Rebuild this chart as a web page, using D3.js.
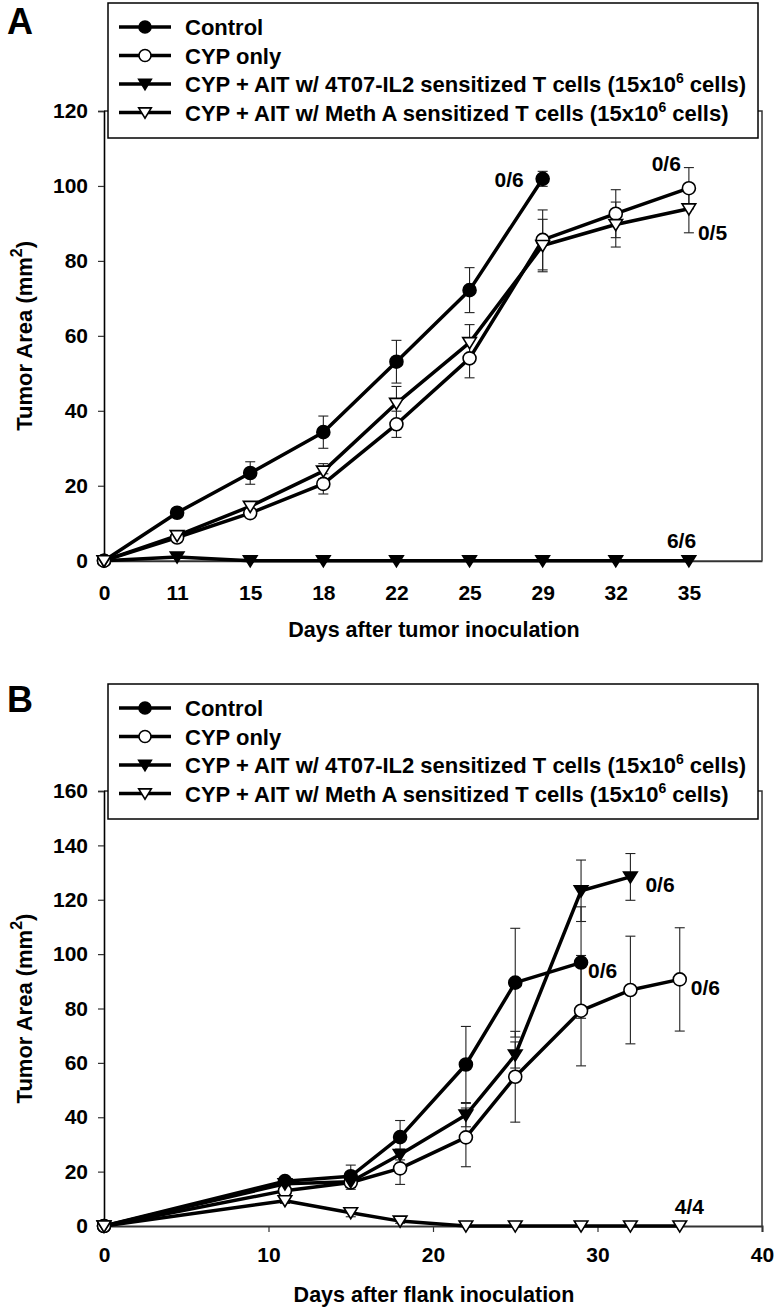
<!DOCTYPE html>
<html><head><meta charset="utf-8">
<script src="https://cdn.jsdelivr.net/npm/d3@7"></script>
<style>
body{margin:0;background:#fff}
svg{display:block}
text{font-family:"Liberation Sans",Arial,Helvetica,sans-serif;font-weight:bold;fill:#000}
</style>
</head><body>
<svg id="chart" width="774" height="1309"></svg>
<script>
// ---------- data ----------
const legendLabels = ["Control", "CYP only",
  "CYP + AIT w/ 4T07-IL2 sensitized T cells (15x10",
  "CYP + AIT w/ Meth A sensitized T cells (15x10"];
const legendSup = ["", "", "6", "6"];
const legendTail = ["", "", " cells)", " cells)"];
const markerTypes = ["circleFilled", "circleOpen", "triFilled", "triOpen"];

// Panel A (category axis)
const daysA = [0, 11, 15, 18, 22, 25, 29, 32, 35];
const controlA    = [0, 12.8, 23.4, 34.3, 53.1, 72.2, 101.9];
const controlAErr = [0, 1.0, 3.0, 4.3, 5.7, 6.0, 2.0];
const cypA        = [0, 6.2, 12.7, 20.5, 36.4, 54.0, 85.6, 92.6, 99.4];
const cypAErr     = [0, 0.6, 1.0, 2.7, 3.5, 5.2, 8.0, 6.4, 5.5];
const t4t07A      = [0, 1.0, 0, 0, 0, 0, 0, 0, 0];
const t4t07AErr   = [0, 0, 0, 0, 0, 0, 0, 0, 0];
const methA_A     = [0, 6.7, 14.5, 23.9, 42.0, 58.2, 84.1, 89.7, 93.9];
const methA_AErr  = [0, 0.5, 1.0, 2.0, 4.5, 4.8, 7.0, 6.0, 6.4];
const survivalA   = ["0/6", "0/6", "6/6", "0/5"];
const yTicksA = [0, 20, 40, 60, 80, 100, 120];

// Panel B (linear axis)
const daysB = [0, 11, 15, 18, 22, 25, 29, 32, 35];
const controlB    = [0, 16.5, 18.3, 32.7, 59.4, 89.5, 96.9];
const controlBErr = [0, 1.5, 4.1, 6.1, 14.0, 20.0, 20.5];
const cypB        = [0, 13.0, 16.0, 21.2, 32.6, 54.9, 79.2, 86.8, 90.7];
const cypBErr     = [0, 1.5, 2.5, 5.9, 10.8, 16.7, 20.3, 19.8, 19.0];
const t4t07B      = [0, 15.5, 16.3, 26.3, 40.8, 62.9, 123.3, 128.4];
const t4t07BErr   = [0, 1.5, 2.0, 2.0, 4.3, 4.8, 11.3, 8.6];
const methA_B     = [0, 9.3, 4.9, 1.8, 0, 0, 0, 0, 0];
const methA_BErr  = [0, 1.0, 1.5, 0.8, 0, 0, 0, 0, 0];
const survivalB   = ["0/6", "0/6", "0/6", "4/4"];
const yTicksB = [0, 20, 40, 60, 80, 100, 120, 140, 160];
const xTicksB = [0, 10, 20, 30, 40];

// ---------- drawing ----------
const svg = d3.select("#chart");

function markerPath(type, g, x, y, r) {
  if (type.startsWith("circle")) {
    g.append("circle").attr("cx", x).attr("cy", y).attr("r", r)
      .attr("fill", type === "circleFilled" ? "#000" : "#fff")
      .attr("stroke", "#000").attr("stroke-width", 1.6);
  } else {
    const w = r * 1.05, h = r * 1.7;
    const p = d3.path();
    p.moveTo(x - w, y - h * 0.45); p.lineTo(x + w, y - h * 0.45); p.lineTo(x, y + h * 0.55); p.closePath();
    g.append("path").attr("d", p.toString())
      .attr("fill", type === "triFilled" ? "#000" : "#fff")
      .attr("stroke", "#000").attr("stroke-width", 1.6).attr("stroke-linejoin", "miter");
  }
}

function drawPanel(cfg) {
  const g = svg.append("g");
  const { x, y, series } = cfg;
  const [x0, x1] = x.range();
  const [yb, yt] = y.range();

  // frame (right / top)
  g.append("path").attr("d", `M${x0},${yt}H${x1}V${yb}`)
    .attr("fill", "none").attr("stroke", "#333").attr("stroke-width", 1.5);

  // y axis
  const ya = g.append("g").attr("transform", `translate(${x0},0)`)
    .call(d3.axisLeft(y).tickValues(cfg.yTicks).tickSize(6).tickPadding(10).tickFormat(d3.format("d")));
  ya.select(".domain").attr("stroke", "#000").attr("stroke-width", 1.6);
  ya.selectAll(".tick line").attr("stroke", "#333").attr("stroke-width", 1.2);
  ya.selectAll("text").style("font-size", "21px").attr("font-family", null);

  // x axis
  const xa = g.append("g").attr("transform", `translate(0,${yb})`)
    .call(cfg.xAxis);
  xa.select(".domain").attr("stroke", "#333").attr("stroke-width", 2);
  xa.selectAll(".tick line").attr("stroke", "#333").attr("stroke-width", 1.2);
  xa.selectAll("text").style("font-size", "21px").attr("font-family", null);

  // axis titles
  g.append("text").attr("x", (x0 + x1) / 2 + 1).attr("y", cfg.xTitleY)
    .attr("text-anchor", "middle").style("font-size", "21.5px").text(cfg.xTitle);
  const yt2 = g.append("text")
    .attr("transform", `translate(32,${(yb + yt) / 2}) rotate(-90)`)
    .attr("text-anchor", "middle").style("font-size", "22px");
  yt2.append("tspan").text("Tumor Area (mm");
  yt2.append("tspan").attr("dy", -10).style("font-size", "16px").text("2");
  yt2.append("tspan").attr("dy", 10).text(")");

  // error bars
  series.forEach(s => {
    s.vals.forEach((v, i) => {
      const e = s.err[i];
      if (v == null || !e) return;
      const px = cfg.px(i), top = y(v + e), bot = y(Math.max(0, v - e));
      g.append("line").attr("x1", px).attr("x2", px).attr("y1", top).attr("y2", bot)
        .attr("stroke", "#222").attr("stroke-width", 1.1);
      [top, bot].forEach(yy => g.append("line").attr("x1", px - 5).attr("x2", px + 5)
        .attr("y1", yy).attr("y2", yy).attr("stroke", "#222").attr("stroke-width", 1.1));
    });
  });

  // lines
  const line = d3.line().defined(d => d.v != null).x(d => cfg.px(d.i)).y(d => y(d.v));
  series.forEach(s => {
    g.append("path").datum(s.vals.map((v, i) => ({ v, i })))
      .attr("d", line).attr("fill", "none").attr("stroke", "#000")
      .attr("stroke-width", 3.5).attr("stroke-linejoin", "round");
  });
  // markers
  series.forEach(s => {
    s.vals.forEach((v, i) => { if (v != null) markerPath(s.marker, g, cfg.px(i), y(v), 6.5); });
  });
  // survival annotations
  series.forEach((s, k) => {
    const last = s.vals.length - 1;
    const a = cfg.annot[k];
    g.append("text").attr("x", cfg.px(last) + a[0]).attr("y", y(s.vals[last]) + a[1])
      .attr("text-anchor", a[2]).style("font-size", "21px").text(s.label);
  });

  // legend
  const L = cfg.legend;
  g.append("rect").attr("x", L.x).attr("y", L.y).attr("width", L.w).attr("height", L.h)
    .attr("fill", "#fff").attr("stroke", "#000").attr("stroke-width", 1.5);
  legendLabels.forEach((lab, k) => {
    const ry = L.y + 24 + k * 28.5;
    g.append("line").attr("x1", L.x + 11).attr("x2", L.x + 63).attr("y1", ry).attr("y2", ry)
      .attr("stroke", "#000").attr("stroke-width", 3.5);
    markerPath(markerTypes[k], g, L.x + 37, ry, 6);
    const t = g.append("text").attr("x", L.x + 77).attr("y", ry + 8).style("font-size", "22px");
    t.append("tspan").text(lab);
    if (legendSup[k]) {
      t.append("tspan").attr("dy", -9).style("font-size", "14px").text(legendSup[k]);
      t.append("tspan").attr("dy", 9).text(legendTail[k]);
    }
  });

  // panel letter
  g.append("text").attr("x", 7).attr("y", cfg.letterY).style("font-size", "36px").text(cfg.letter);
}

// Panel A
const xA = d3.scaleLinear().domain([0, 9]).range([104, 762]);
const yA = d3.scaleLinear().domain([0, 120]).range([560.7, 111]);
drawPanel({
  letter: "A", letterY: 34,
  x: xA, y: yA, yTicks: yTicksA,
  px: i => xA(i),
  xAxis: d3.axisBottom(xA).tickValues(d3.range(daysA.length)).tickFormat(i => daysA[i]).tickSize(0).tickPadding(24),
  xTitle: "Days after tumor inoculation", xTitleY: 637,
  series: [
    { vals: controlA, err: controlAErr, marker: markerTypes[0], label: survivalA[0] },
    { vals: cypA, err: cypAErr, marker: markerTypes[1], label: survivalA[1] },
    { vals: t4t07A, err: t4t07AErr, marker: markerTypes[2], label: survivalA[2] },
    { vals: methA_A, err: methA_AErr, marker: markerTypes[3], label: survivalA[3] }
  ],
  annot: [[-19, 8, "end"], [-8, -17, "end"], [-22, -13, "start"], [9, 31, "start"]],
  legend: { x: 108, y: 3, w: 650, h: 135 }
});

// Panel B
const xB = d3.scaleLinear().domain([0, 40]).range([104, 762]);
const yB = d3.scaleLinear().domain([0, 160]).range([1226, 791]);
drawPanel({
  letter: "B", letterY: 712,
  x: xB, y: yB, yTicks: yTicksB,
  px: i => xB(daysB[i]),
  xAxis: d3.axisBottom(xB).tickValues(xTicksB).tickSize(6).tickPadding(15),
  xTitle: "Days after flank inoculation", xTitleY: 1302,
  series: [
    { vals: controlB, err: controlBErr, marker: markerTypes[0], label: survivalB[0] },
    { vals: cypB, err: cypBErr, marker: markerTypes[1], label: survivalB[1] },
    { vals: t4t07B, err: t4t07BErr, marker: markerTypes[2], label: survivalB[2] },
    { vals: methA_B, err: methA_BErr, marker: markerTypes[3], label: survivalB[3] }
  ],
  annot: [[7, 15, "start"], [11, 16, "start"], [15, 15, "start"], [-5, -12, "start"]],
  legend: { x: 108, y: 684, w: 650, h: 135 }
});
</script>
</body></html>
